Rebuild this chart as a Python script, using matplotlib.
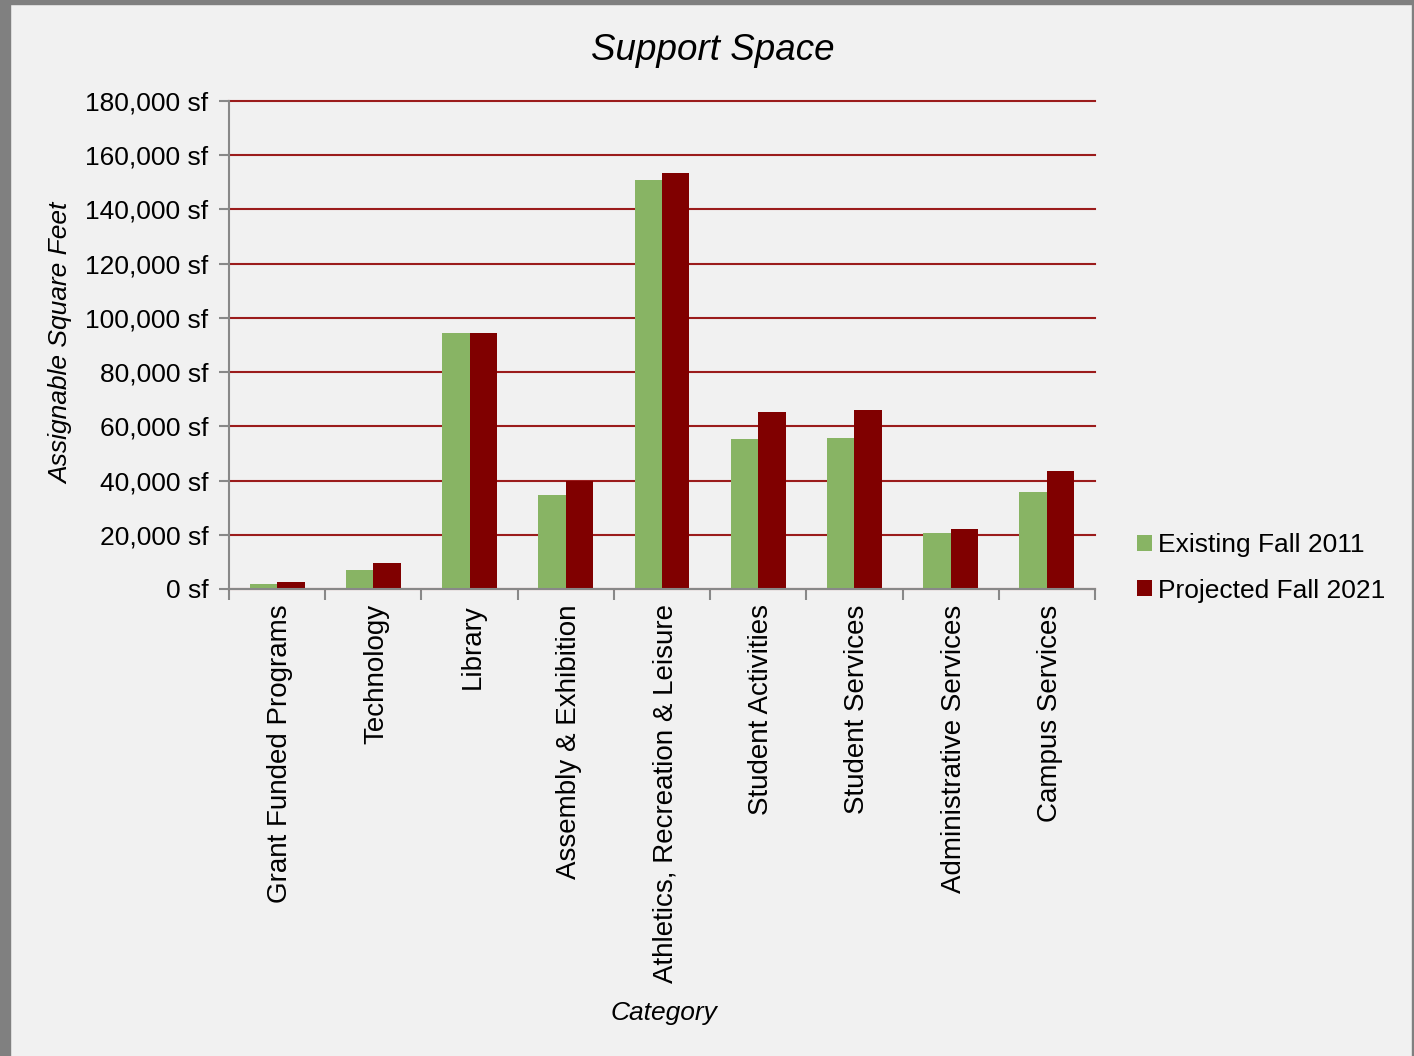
import matplotlib.pyplot as plt
import matplotlib.transforms as mtransforms
import numpy as np
from matplotlib.patches import Rectangle
from matplotlib.ticker import FuncFormatter, MultipleLocator

plt.rcParams["font.family"] = ["Liberation Sans", "DejaVu Sans"]

categories = [
    "Grant Funded Programs", "Technology", "Library", "Assembly & Exhibition",
    "Athletics, Recreation & Leisure", "Student Activities", "Student Services",
    "Administrative Services", "Campus Services",
]
existing_2011 = [1800, 7000, 94400, 34700, 150900, 55300, 55700, 20700, 35800]
projected_2021 = [2600, 9600, 94400, 40000, 153500, 65300, 66000, 22100, 43500]
series_names = ["Existing Fall 2011", "Projected Fall 2021"]
colors = ["#88b464", "#800000"]

W, H = 1414, 1056
fig = plt.figure(figsize=(W / 100, H / 100), dpi=100, facecolor="#f1f1f1")

# window frame
fig.patches.append(Rectangle((0, 0), 10 / W, 1, transform=fig.transFigure, color="#808080", zorder=0))
fig.patches.append(Rectangle((0, 1 - 4 / H), 1, 4 / H, transform=fig.transFigure, color="#808080", zorder=0))
fig.patches.append(Rectangle((1 - 2 / W, 0), 2 / W, 1, transform=fig.transFigure, color="#808080", zorder=0))

ax = fig.add_axes([229 / W, 1 - 589 / H, (1095 - 229) / W, (589 - 101) / H])
ax.set_facecolor("#f1f1f1")

x = np.arange(len(categories))
bw = 1 / 3.5
ax.bar(x - bw / 2, existing_2011, width=bw, color=colors[0], label=series_names[0], zorder=3)
ax.bar(x + bw / 2, projected_2021, width=bw, color=colors[1], label=series_names[1], zorder=3)

ax.set_xlim(-0.5, len(categories) - 0.5)
ax.set_ylim(0, 180000)
ax.yaxis.set_major_locator(MultipleLocator(20000))
ax.yaxis.set_major_formatter(FuncFormatter(lambda v, p: f"{int(v):,} sf"))
ax.grid(axis="y", color="#9b1c1c", linewidth=1.5, zorder=1)
for gl in ax.get_ygridlines():
    gl.set_clip_on(False)
ax.set_axisbelow(True)

for s in ["top", "right"]:
    ax.spines[s].set_visible(False)
for s in ["left", "bottom"]:
    ax.spines[s].set_color("#888888")
    ax.spines[s].set_linewidth(1.5)
    ax.spines[s].set_zorder(4)

ax.set_xticks(x)
ax.set_xticklabels(categories, rotation=90, fontsize=20, va="top")
ax.set_xticks(np.arange(-0.5, len(categories)), minor=True)
ax.tick_params(axis="x", which="major", length=0, pad=11)
ax.tick_params(axis="x", which="minor", length=8, width=1.5, color="#888888")
ax.tick_params(axis="y", length=7, width=1.5, color="#888888", labelsize=19, pad=8)

# nudge category labels a little to the right
shift = mtransforms.ScaledTranslation(3 / 100, 0, fig.dpi_scale_trans)
for lbl in ax.get_xticklabels():
    lbl.set_transform(lbl.get_transform() + shift)

fig.text(713 / W, 1 - 50 / H, "Support Space", fontsize=26.5, style="italic", ha="center", va="center")
fig.text(61 / W, 1 - 343 / H, "Assignable Square Feet", fontsize=19, style="italic",
         rotation=90, ha="center", va="center")
fig.text(664 / W, 1 - 1013 / H, "Category", fontsize=19, style="italic", ha="center", va="center")

fig.legend(loc="center left", bbox_to_anchor=(1137 / W, 1 - 568 / H), frameon=False,
           fontsize=19, handlelength=0.55, handleheight=0.55, handletextpad=0.25,
           labelspacing=0.8, borderaxespad=0, borderpad=0)

fig.savefig("out.png", dpi=100, facecolor=fig.get_facecolor())
